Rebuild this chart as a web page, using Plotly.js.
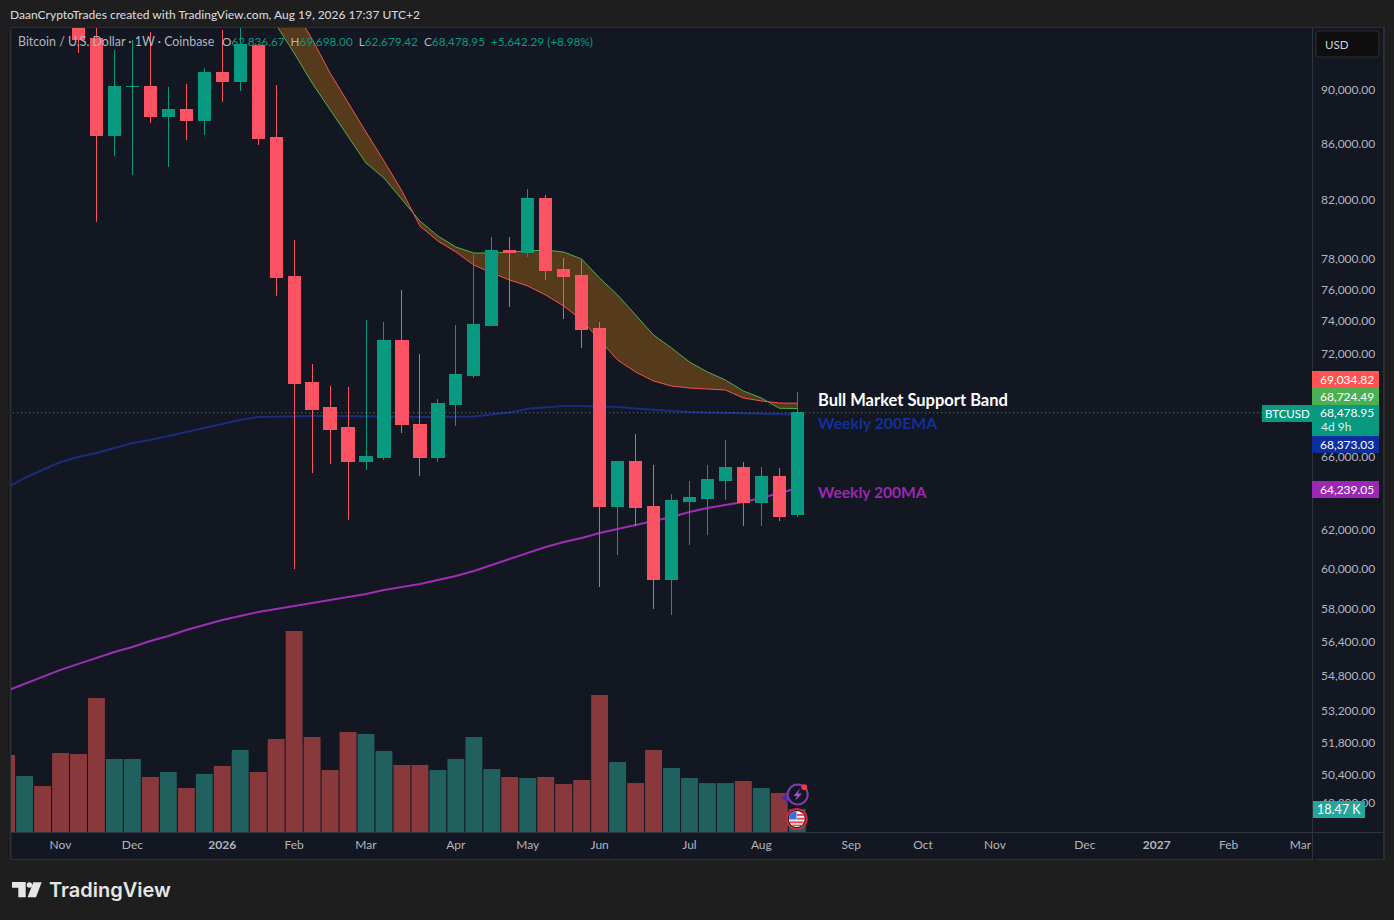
<!DOCTYPE html>
<html><head><meta charset="utf-8">
<script src="https://cdn.plot.ly/plotly-3.0.1.min.js"></script>
<style>html,body{margin:0;padding:0;background:#1e1e1e;overflow:hidden}
.boxlayer path{shape-rendering:crispEdges}</style>
</head><body><div id="chart" style="width:1394px;height:920px"></div>
<script>
const weeks = ['2025-10-13','2025-10-20','2025-10-27','2025-11-03','2025-11-10','2025-11-17','2025-11-24','2025-12-01','2025-12-08','2025-12-15','2025-12-22','2025-12-29','2026-01-05','2026-01-12','2026-01-19','2026-01-26','2026-02-02','2026-02-09','2026-02-16','2026-02-23','2026-03-02','2026-03-09','2026-03-16','2026-03-23','2026-03-30','2026-04-06','2026-04-13','2026-04-20','2026-04-27','2026-05-04','2026-05-11','2026-05-18','2026-05-25','2026-06-01','2026-06-08','2026-06-15','2026-06-22','2026-06-29','2026-07-06','2026-07-13','2026-07-20','2026-07-27','2026-08-03','2026-08-10','2026-08-17'];
// weekly candles, from the week of 2025-11-10 (earlier candles are above the visible range)
const opens  = [104700,94051,86636,90268,90306,88041,88564,87743,91382,90688,93496,86490,76822,70228,68757,67602,65684,65907,72770,67831,65907,68932,70646,73700,78598,78465,82136,77343,76952,73513,63229,65684,63229,59439,63497,63658,64635,65351,63443,64855,62836.67];
const highs  = [106000,96600,93101,93892,94531,90229,90458,91692,94691,97900,93575,90382,79266,71367,70049,69989,74075,73950,75981,71973,69295,73763,78333,79468,79468,82764,82345,78067,77935,73950,65740,67259,65517,63928,64635,65517,66918,65684,65406,65351,69698];
const lows   = [92865,80484,85109,83751,87521,84320,86270,86636,89091,89924,85906,75596,59995,65075,65573,62536,65240,65795,67316,64910,65684,67717,70526,73700,74895,78134,76627,74138,72340,59088,60711,62220,57997,57704,61227,61748,63604,62220,62220,62483,62679.42];
const closes = [93972,86636,90306,90306,88041,88564,87743,91382,90688,93575,86416,76757,70170,68698,67544,65684,65962,72770,67774,65907,68990,70705,73763,78598,78465,82136,77278,76887,73451,63229,65684,63175,59439,63550,63712,64690,65351,63443,64855,62747,68478.95];
const volumes = [61.8,45,36.9,63.4,62.6,107.6,58.6,58.6,44.2,48.2,35.3,46.6,53,65.8,48.2,74.7,161.4,76.3,49.8,80.3,78.7,65,53.8,53.8,49.8,58.6,76.3,50.6,44.2,43.4,44.2,38.5,41.8,110,56.2,39.3,65.8,51.4,43.4,39.3,39.3,41,35.3,31.3,18.47];
const volumeUp = [0,1,0,0,0,0,1,1,0,1,0,1,0,1,0,0,0,0,0,0,1,1,0,0,1,1,1,1,0,1,0,0,0,0,1,0,0,1,1,1,1,0,1,0,1];
// bull market support band, from the week of 2026-01-19
const bandGreen = [97372,95092,92865,90535,88489,86490,84606,83538,81996,80552,79535,78798,78399,78399,78465,78532,78598,78465,78001,76757,75660,74390,73141,72340,71487,70885,70406,69753,69342,68740,68724.49];
const bandRed   = [101327,98784,96308,93972,91304,89014,86856,84749,82624,80212,79199,78465,77606,77082,76627,76239,75660,74959,74075,72831,71608,70885,70347,70049,69931,69871,69812,69342,69166,69049,69034.82];
const ema200 = [64254,64800,65240,65684,65962,66186,66467,66749,66918,67146,67373,67602,67831,68061,68235,68264,68276,68293,68293,68281,68235,68235,68235,68235,68235,68235,68264,68379,68494,68716,68815,68874,68874,68845,68815,68728,68640,68582,68523,68494,68466,68466,68437,68408,68373.03];
const ma200 = [54110,54430,54752,55080,55361,55642,55925,56163,56448,56688,56976,57217,57460,57655,57850,57997,58145,58293,58441,58589,58738,58938,59088,59238,59439,59640,59893,60198,60505,60814,61123,61382,61590,61852,62062,62272,62483,62694,62961,63175,63336,63497,63712,63983,64239.05];
const lastPrice = 68478.95;
const priceTicks = [90000,86000,82000,78000,76000,74000,72000,70000,68000,66000,64000,62000,60000,58000,56400,54800,53200,51800,50400,49200];
const priceTickText = ['90,000.00','86,000.00','82,000.00','78,000.00','76,000.00','74,000.00','72,000.00','70,000.00','68,000.00','66,000.00','64,000.00','62,000.00','60,000.00','58,000.00','56,400.00','54,800.00','53,200.00','51,800.00','50,400.00','49,200.00'];
const dateTicks = ['2025-11-03','2025-12-01','2026-01-05','2026-02-02','2026-03-02','2026-04-06','2026-05-04','2026-06-01','2026-07-06','2026-08-03','2026-09-07','2026-10-05','2026-11-02','2026-12-07','2027-01-04','2027-02-01','2027-03-01'];
const dateTickText = ['Nov','Dec','<b>2026</b>','Feb','Mar','Apr','May','Jun','Jul','Aug','Sep','Oct','Nov','Dec','<b>2027</b>','Feb','Mar'];

const FONT = 'Lato, "Open Sans", sans-serif';
const UP='#089981', DOWN='#fb5264', VUP='#20605e', VDOWN='#89393c', GREY='#b2b5be';
const L=11,R=1312,T=28,B=832;
const px = x=>(x-L)/(R-L), py = y=>(B-y)/(B-T);
const rect=(x0,y0,x1,y1,fill,extra)=>Object.assign({type:'rect',xref:'paper',yref:'paper',x0:px(x0),x1:px(x1),y0:py(y0),y1:py(y1),fillcolor:fill,line:{width:0}},extra||{});
const hline=(x0,y,x1,c)=>({type:'line',xref:'paper',yref:'paper',x0:px(x0),x1:px(x1),y0:py(y),y1:py(y),line:{color:c,width:1}});
const vline=(x,y0,y1,c)=>({type:'line',xref:'paper',yref:'paper',x0:px(x),x1:px(x),y0:py(y0),y1:py(y1),line:{color:c,width:1}});
const circle=(cx,cy,r,fill,lc,lw)=>({type:'circle',xref:'paper',yref:'paper',x0:px(cx-r),x1:px(cx+r),y0:py(cy-r),y1:py(cy+r),fillcolor:fill,line:{color:lc||fill,width:lw||0}});
const poly=(pts,fill)=>({type:'path',xref:'paper',yref:'paper',path:'M'+pts.map(p=>px(p[0])+','+py(p[1])).join('L')+'Z',fillcolor:fill,line:{width:0}});
const note=(x,y,text,color,size,anchor,weight,family)=>({xref:'paper',yref:'paper',x:px(x),y:py(y),text:text,showarrow:false,xanchor:anchor||'left',yanchor:'middle',font:{family:family||FONT,color:color,size:size,weight:weight||400},borderpad:0,borderwidth:0});

const BORDER='#2e2f33', PANE='#131722';
const shapes=[
  rect(10,27,1385,860,BORDER,{layer:'below'}),
  rect(11.5,28,1383,859,PANE,{layer:'below'}),
  vline(1312.5,28,859,'#2f333d'), hline(11,832.5,1383,'#2f333d'),
  rect(1262,405,1312,422,'#089981'),
  rect(1312,371,1379,388,'#ff5252'),
  rect(1312,388,1379,405,'#4caf50'),
  rect(1312,405,1379,436,'#089981'),
  rect(1312,436,1379,453,'#0d2f9e'),
  rect(1312,481,1379,498,'#9c27b0'),
  rect(1313,801,1365,818,'#26a69a'),
  {type:'path',xref:'paper',yref:'paper',path:`M${px(1319)},${py(31)}L${px(1376)},${py(31)}Q${px(1379)},${py(31)} ${px(1379)},${py(34)}L${px(1379)},${py(54)}Q${px(1379)},${py(57)} ${px(1376)},${py(57)}L${px(1319)},${py(57)}Q${px(1316)},${py(57)} ${px(1316)},${py(54)}L${px(1316)},${py(34)}Q${px(1316)},${py(31)} ${px(1319)},${py(31)}Z`,fillcolor:'#0f0f0f',line:{color:'#2e2f33',width:1}},
  // event markers
  poly([[786.7,791.5],[788.6,796],[793.2,798],[788.6,800],[786.7,804.5],[784.8,800],[780.2,798],[784.8,796]],'#4a2bb0'),
  circle(797.7,794.5,10,'rgba(19,23,34,0.9)','#7e3ea8',2),
  poly([[800,788.5],[793.5,796],[797,796],[795,801],[802,793.5],[798,793.5]],'#9c4fd0'),
  circle(804.3,787.3,3,'#f23645'),
  circle(796.7,819,10,'#131722','#d8263c',2),
  circle(796.7,819,8,'#f2f2f2'),
  rect(797,814,803.5,816,'#e8505b'), rect(797,817.7,804.5,819.7,'#e8505b'),
  rect(790,821.3,803.7,823.3,'#e8505b'), rect(792.5,824.6,801,826,'#e8505b'),
  poly([[789,819.5],[789.5,815],[792,812.5],[796.5,811],[796.5,819.5]],'#3d6fd6'),
  // TradingView logo
  poly([[12,882],[25.7,882],[25.7,897.3],[18.3,897.3],[18.3,887.7],[12,887.7]],'#e6e6e6'),
  circle(29.4,885,2.7,'#e6e6e6'),
  poly([[33.3,882.2],[41.7,882.2],[36,897.3],[27.5,897.3]],'#e6e6e6'),
];

const o = s=>`<span style="color:${GREY}">${s}</span>`;
const annotations=[
  note(10,15,'DaanCryptoTrades created with TradingView.com, Aug 19, 2026 17:37 UTC+2','#d1d4dc',12,'left',500),
  note(18,42,`${o('Bitcoin / U.S. Dollar · 1W · Coinbase')}`,GREY,12.4),
  note(222,42,`${o('O')}62,836.67  ${o('H')}69,698.00  ${o('L')}62,679.42  ${o('C')}68,478.95  +5,642.29 (+8.98%)`,'#089981',11.75),
  note(818,400,'Bull Market Support Band','#ffffff',16.5,'left',700),
  note(818,423,'Weekly 200EMA','#12309a',15.8,'left',700),
  note(818,492,'Weekly 200MA','#9c27b0',15.6,'left',700),
  note(1287,413.5,'BTCUSD','#ffffff',11.5,'center'),
  note(1346.5,379.5,'69,034.82','#ffffff',12,'center'),
  note(1346.5,396.5,'68,724.49','#ffffff',12,'center'),
  note(1346.5,413,'68,478.95','#ffffff',12,'center'),
  note(1321,426.5,'4d 9h','#d6efe9',12),
  note(1346.5,444,'68,373.03','#ffffff',12,'center'),
  note(1346.5,489.5,'64,239.05','#ffffff',12,'center'),
  note(1339,809.5,'18.47 K','#ffffff',12.5,'center'),
  note(1325,44.5,'USD','#d1d4dc',11.5),
  note(48.5,890,'TradingView','#e6e6e6',20,'left',600,'Inter, Lato, sans-serif'),
];

const candleWeeks = weeks.slice(4), bandWeeks = weeks.slice(14);
const dotEnd = '2027-02-14';
const traces=[
  {type:'bar',x:weeks,y:volumes,yaxis:'y3',marker:{color:volumeUp.map(u=>u?VUP:VDOWN),line:{width:0}},hoverinfo:'skip'},
  {type:'scatter',mode:'lines',x:weeks,y:ma200,line:{color:'#9c2fb5',width:2},hoverinfo:'skip'},
  {type:'scatter',mode:'lines',x:weeks,y:ema200,line:{color:'#1a2c7c',width:2},hoverinfo:'skip'},
  {type:'scatter',mode:'lines',x:bandWeeks,y:bandGreen,line:{color:'#4caf50',width:1},hoverinfo:'skip'},
  {type:'scatter',mode:'lines',x:bandWeeks,y:bandRed,line:{color:'#f2544f',width:1},fill:'tonexty',fillcolor:'#553a1b',hoverinfo:'skip'},
  {type:'candlestick',x:candleWeeks,open:opens,high:highs,low:lows,close:closes,yaxis:'y2',
   increasing:{line:{color:UP,width:1},fillcolor:UP},decreasing:{line:{color:DOWN,width:1},fillcolor:DOWN},whiskerwidth:0,hoverinfo:'skip'},
  {type:'scatter',mode:'lines',x:['2025-10-14',dotEnd],y:[lastPrice,lastPrice],yaxis:'y2',line:{color:'#3f9c90',width:1,dash:'1px 3px'},hoverinfo:'skip'},
];
const yRange=[4.68139,4.97705];
const layout={
  width:1394,height:920,margin:{l:L,r:1394-R,t:T,b:920-B,pad:0},
  paper_bgcolor:'#1e1e1e',plot_bgcolor:'rgba(0,0,0,0)',showlegend:false,bargap:0.06,boxgap:0.32,boxgroupgap:0,hovermode:false,
  font:{family:FONT,color:GREY,size:12},
  xaxis:{type:'date',range:['2025-10-14 17:00','2027-03-05 12:00'],tickmode:'array',tickvals:dateTicks,ticktext:dateTickText,showgrid:false,zeroline:false,showline:false,ticks:'',tickangle:0,ticklabelstandoff:4,tickfont:{family:FONT,size:12,color:GREY},rangeslider:{visible:false},automargin:false},
  yaxis:{type:'log',side:'right',range:yRange,tickmode:'array',tickvals:priceTicks,ticktext:priceTickText,showgrid:false,zeroline:false,showline:false,ticks:'',ticklabelstandoff:8,tickfont:{family:FONT,size:12,color:GREY},automargin:false},
  yaxis2:{type:'log',overlaying:'y',range:yRange,visible:false,side:'right'},
  yaxis3:{type:'linear',overlaying:'y',range:[0,645.6],visible:false,side:'left'},
  shapes:shapes,annotations:annotations,
};
Plotly.newPlot('chart',traces,layout,{displayModeBar:false,responsive:false});
</script></body></html>
